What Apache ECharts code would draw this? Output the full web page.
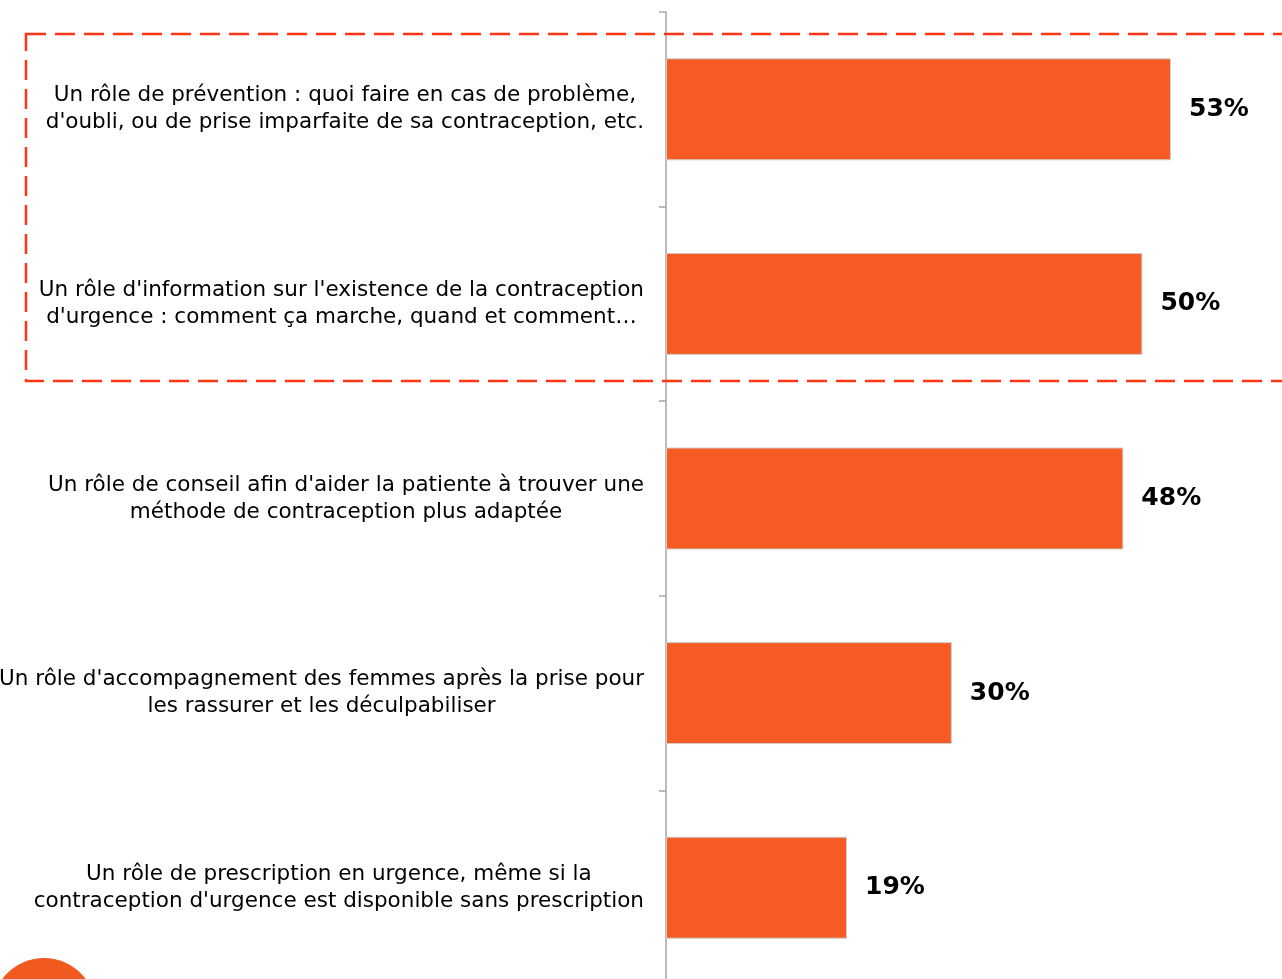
<!DOCTYPE html>
<html>
<head>
<meta charset="utf-8">
<script src="https://cdn.jsdelivr.net/npm/echarts@6/dist/echarts.min.js"></script>
<style>html,body{margin:0;padding:0;background:#fff}#c{width:1282px;height:979px}</style>
</head>
<body>
<div id="c"></div>
<script>
const categories = [
  "Un rôle de prévention : quoi faire en cas de problème,\nd'oubli, ou de prise imparfaite de sa contraception, etc.",
  "Un rôle d'information sur l'existence de la contraception\nd'urgence : comment ça marche, quand et comment…",
  "Un rôle de conseil afin d'aider la patiente à trouver une\nméthode de contraception plus adaptée",
  "Un rôle d'accompagnement des femmes après la prise pour\nles rassurer et les déculpabiliser",
  "Un rôle de prescription en urgence, même si la\ncontraception d'urgence est disponible sans prescription"
];
const values = [53, 50, 48, 30, 19];

const chart = echarts.init(document.getElementById('c'));
chart.setOption({
  animation: false,
  grid: { left: 666, top: 12, width: 571.7, height: 973, outerBoundsMode: 'none', containLabel: false },
  xAxis: { type: 'value', min: 0, max: 60, show: false },
  yAxis: {
    type: 'category',
    inverse: true,
    data: categories,
    axisLine: { show: true, lineStyle: { color: '#A6A6A6', width: 1.5 } },
    axisTick: { show: true, length: 7, lineStyle: { color: '#A6A6A6', width: 1.5 } },
    axisLabel: {
      margin: 22,
      align: 'right',
      formatter: function (v) {
        return v.split('\n').map(function (l) { return '{c|' + l + '}'; }).join('\n');
      },
      rich: {
        c: { align: 'center', fontFamily: 'DejaVu Sans', fontSize: 21.5, lineHeight: 27, color: '#000' }
      }
    }
  },
  series: [{
    type: 'bar',
    data: values,
    barWidth: 102,
    itemStyle: { color: '#F55B23', borderColor: '#CFCFCF', borderWidth: 1 },
    label: {
      show: true,
      position: 'right',
      distance: 18,
      formatter: '{c}%',
      fontFamily: 'DejaVu Sans',
      fontWeight: 'bold',
      fontSize: 25,
      color: '#000'
    }
  }],
  graphic: [
    {
      type: 'rect',
      shape: { x: 26, y: 34, width: 1300, height: 347 },
      style: { fill: 'none', stroke: '#FF3516', lineWidth: 2.5, lineDash: [20, 9] },
      z: 100
    },
    {
      type: 'circle',
      shape: { cx: 44, cy: 1010, r: 52 },
      style: { fill: '#F05A1E' }
    }
  ]
});
</script>
</body>
</html>
